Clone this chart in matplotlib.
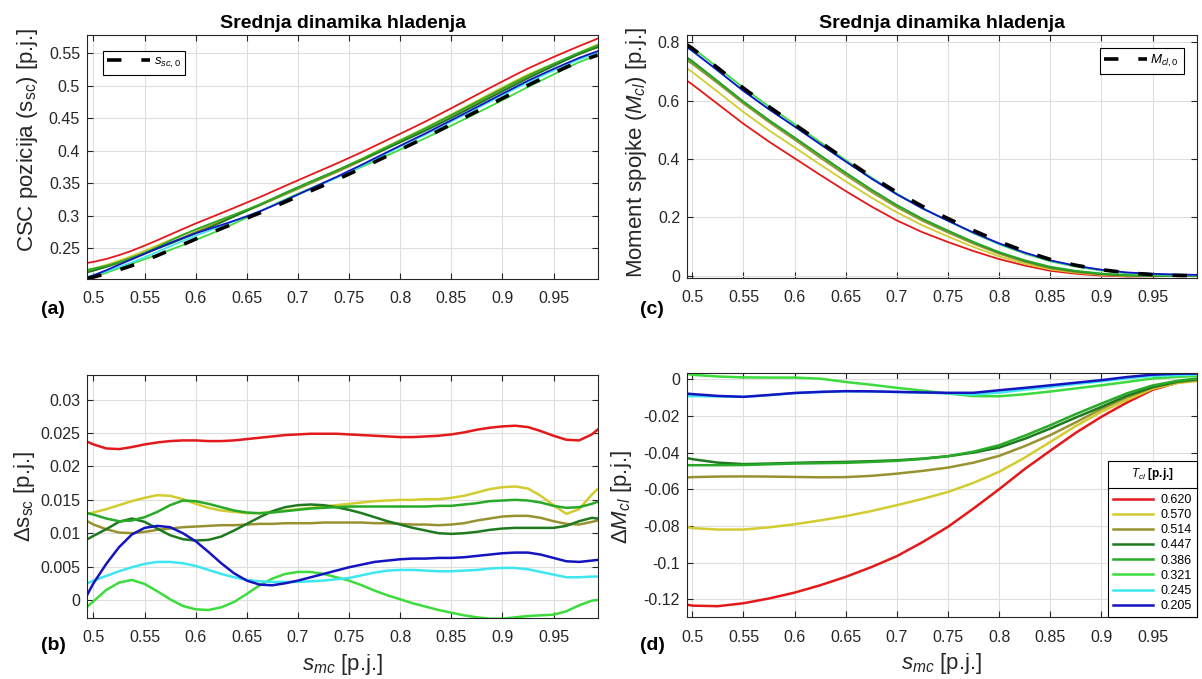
import numpy as np
import matplotlib

matplotlib.use("Agg")
import matplotlib.pyplot as plt
from matplotlib.lines import Line2D

plt.rcParams["font.family"] = ["Liberation Sans", "DejaVu Sans"]
plt.rcParams["mathtext.fontset"] = "custom"
plt.rcParams["mathtext.rm"] = "Liberation Sans"
plt.rcParams["mathtext.it"] = "Liberation Sans:italic"
plt.rcParams["mathtext.bf"] = "Liberation Sans:bold"

# ---- data ----
T_CL = ["0.620", "0.570", "0.514", "0.447", "0.386", "0.321", "0.245", "0.205"]
COLORS = ["#e3191c", "#d2cc30", "#999230", "#1f7a1f", "#28aa28", "#3ddc3d", "#3ee6f0", "#1414c0"]

X_TICKS = [0.5, 0.55, 0.6, 0.65, 0.7, 0.75, 0.8, 0.85, 0.9, 0.95]

# fine grid for s_sc panels
S_MC_FINE = [0.494, 0.5, 0.5125, 0.525, 0.5375, 0.55, 0.5625, 0.575, 0.5875, 0.6,
             0.6125, 0.625, 0.6375, 0.65, 0.6625, 0.675, 0.6875, 0.7, 0.7125, 0.725,
             0.7375, 0.75, 0.7625, 0.775, 0.7875, 0.8, 0.8125, 0.825, 0.8375, 0.85,
             0.8625, 0.875, 0.8875, 0.9, 0.9125, 0.925, 0.9375, 0.95, 0.9625, 0.975,
             0.9875, 0.993]

SSC0 = [0.2035, 0.2055, 0.2105, 0.2165, 0.2230, 0.2305, 0.2385, 0.2470, 0.2555, 0.2640,
        0.2720, 0.2800, 0.2880, 0.2960, 0.3040, 0.3125, 0.3210, 0.3295, 0.3380, 0.3465,
        0.3550, 0.3640, 0.3730, 0.3825, 0.3920, 0.4015, 0.4110, 0.4205, 0.4305, 0.4405,
        0.4505, 0.4605, 0.4705, 0.4805, 0.4905, 0.5005, 0.5100, 0.5195, 0.5285, 0.5370,
        0.5440, 0.5470]

DSSC_620 = [0.0237, 0.0233, 0.0227, 0.0226, 0.0229, 0.0233, 0.0236, 0.0238, 0.0239, 0.0239,
            0.0238, 0.0238, 0.0239, 0.0241, 0.0243, 0.0245, 0.0247, 0.0248, 0.0249, 0.0249,
            0.0249, 0.0248, 0.0247, 0.0246, 0.0245, 0.0244, 0.0244, 0.0245, 0.0246, 0.0248,
            0.0251, 0.0255, 0.0258, 0.0260, 0.0261, 0.0259, 0.0253, 0.0246, 0.0240, 0.0239,
            0.0248, 0.0255]
DSSC_570 = [0.0129, 0.0131, 0.0136, 0.0142, 0.0148, 0.0153, 0.0157, 0.0156, 0.0151, 0.0144,
            0.0138, 0.0134, 0.0132, 0.0130, 0.0130, 0.0132, 0.0134, 0.0136, 0.0138, 0.0140,
            0.0142, 0.0144, 0.0146, 0.0148, 0.0149, 0.0150, 0.0150, 0.0151, 0.0151, 0.0153,
            0.0156, 0.0161, 0.0166, 0.0169, 0.0170, 0.0167, 0.0156, 0.0142, 0.0129, 0.0136,
            0.0158, 0.0166]
DSSC_514 = [0.0118, 0.0113, 0.0106, 0.0101, 0.0100, 0.0102, 0.0105, 0.0107, 0.0109, 0.0110,
            0.0111, 0.0112, 0.0112, 0.0113, 0.0114, 0.0114, 0.0115, 0.0115, 0.0115, 0.0116,
            0.0116, 0.0116, 0.0116, 0.0115, 0.0115, 0.0114, 0.0113, 0.0113, 0.0112, 0.0113,
            0.0115, 0.0119, 0.0122, 0.0125, 0.0126, 0.0126, 0.0123, 0.0118, 0.0114, 0.0113,
            0.0117, 0.0119]
DSSC_447 = [0.0091, 0.0096, 0.0106, 0.0117, 0.0122, 0.0117, 0.0107, 0.0097, 0.0091, 0.0089,
            0.0090, 0.0095, 0.0104, 0.0114, 0.0124, 0.0133, 0.0139, 0.0142, 0.0143, 0.0142,
            0.0139, 0.0135, 0.0130, 0.0124, 0.0118, 0.0113, 0.0108, 0.0104, 0.0100, 0.0099,
            0.0100, 0.0102, 0.0105, 0.0107, 0.0108, 0.0108, 0.0108, 0.0108, 0.0111, 0.0118,
            0.0123, 0.0122]
DSSC_386 = [0.0130, 0.0128, 0.0122, 0.0118, 0.0119, 0.0124, 0.0132, 0.0142, 0.0149, 0.0148,
            0.0144, 0.0139, 0.0134, 0.0131, 0.0130, 0.0131, 0.0133, 0.0135, 0.0137, 0.0138,
            0.0139, 0.0140, 0.0140, 0.0140, 0.0140, 0.0140, 0.0140, 0.0140, 0.0141, 0.0141,
            0.0143, 0.0145, 0.0148, 0.0149, 0.0150, 0.0149, 0.0146, 0.0141, 0.0138, 0.0139,
            0.0144, 0.0147]
DSSC_321 = [-0.0010, -0.0002, 0.0015, 0.0026, 0.0030, 0.0024, 0.0013, 0.0001, -0.0009, -0.0014,
            -0.0015, -0.0011, -0.0003, 0.0009, 0.0022, 0.0032, 0.0039, 0.0042, 0.0042, 0.0039,
            0.0034, 0.0029, 0.0022, 0.0014, 0.0007, 0.0001, -0.0005, -0.0010, -0.0015, -0.0019,
            -0.0023, -0.0026, -0.0028, -0.0028, -0.0026, -0.0024, -0.0023, -0.0022, -0.0017, -0.0008,
            -0.0001, 0.0000]
DSSC_245 = [0.0025, 0.0029, 0.0036, 0.0043, 0.0049, 0.0054, 0.0057, 0.0057, 0.0055, 0.0051,
            0.0045, 0.0039, 0.0034, 0.0030, 0.0028, 0.0027, 0.0027, 0.0027, 0.0028, 0.0029,
            0.0031, 0.0033, 0.0037, 0.0041, 0.0044, 0.0045, 0.0045, 0.0044, 0.0043, 0.0043,
            0.0044, 0.0045, 0.0047, 0.0048, 0.0048, 0.0046, 0.0042, 0.0038, 0.0034, 0.0034,
            0.0035, 0.0035]
DSSC_205 = [0.0008, 0.0025, 0.0054, 0.0079, 0.0098, 0.0108, 0.0111, 0.0109, 0.0100, 0.0088,
            0.0072, 0.0055, 0.0040, 0.0029, 0.0023, 0.0022, 0.0025, 0.0029, 0.0034, 0.0039,
            0.0044, 0.0049, 0.0053, 0.0057, 0.0059, 0.0061, 0.0062, 0.0062, 0.0063, 0.0063,
            0.0064, 0.0066, 0.0068, 0.0070, 0.0071, 0.0071, 0.0068, 0.0063, 0.0058, 0.0057,
            0.0059, 0.0060]

# coarser grid for clutch torque panels
S_MC_COARSE = [0.494, 0.5, 0.525, 0.55, 0.575, 0.6, 0.625, 0.65, 0.675, 0.7, 0.725,
               0.75, 0.775, 0.8, 0.825, 0.85, 0.875, 0.9, 0.925, 0.95, 0.975, 0.993]

MCL0 = [0.793, 0.779, 0.712, 0.643, 0.579, 0.519, 0.458, 0.398, 0.340, 0.286, 0.238,
        0.196, 0.155, 0.117, 0.084, 0.056, 0.036, 0.021, 0.010, 0.004, 0.001, 0.000]

DMCL_620 = [-0.1229, -0.1235, -0.1238, -0.1222, -0.1196, -0.1164, -0.1124, -0.1078, -0.1025, -0.0965, -0.0889,
            -0.0805, -0.0705, -0.0600, -0.0490, -0.0390, -0.0292, -0.0205, -0.0127, -0.0058, -0.0018, -0.0005]
DMCL_570 = [-0.0805, -0.0812, -0.0820, -0.0820, -0.0808, -0.0791, -0.0770, -0.0747, -0.0719, -0.0687, -0.0653,
            -0.0615, -0.0565, -0.0505, -0.0428, -0.0342, -0.0255, -0.0178, -0.0113, -0.0052, -0.0020, -0.0010]
DMCL_514 = [-0.0536, -0.0534, -0.0531, -0.0530, -0.0531, -0.0533, -0.0535, -0.0534, -0.0527, -0.0515, -0.0500,
            -0.0482, -0.0455, -0.0418, -0.0365, -0.0305, -0.0235, -0.0162, -0.0098, -0.0045, -0.0015, -0.0005]
DMCL_447 = [-0.0429, -0.0436, -0.0455, -0.0463, -0.0460, -0.0456, -0.0453, -0.0451, -0.0447, -0.0442, -0.0433,
            -0.0420, -0.0400, -0.0373, -0.0325, -0.0269, -0.0209, -0.0151, -0.0090, -0.0043, -0.0012, 0.0000]
DMCL_386 = [-0.0469, -0.0469, -0.0469, -0.0468, -0.0464, -0.0460, -0.0458, -0.0456, -0.0451, -0.0445, -0.0435,
            -0.0420, -0.0395, -0.0360, -0.0308, -0.0251, -0.0190, -0.0133, -0.0077, -0.0034, -0.0008, 0.0004]
DMCL_321 = [0.0030, 0.0024, 0.0015, 0.0010, 0.0009, 0.0009, 0.0003, -0.0015, -0.0030, -0.0047, -0.0062,
            -0.0078, -0.0092, -0.0093, -0.0082, -0.0067, -0.0050, -0.0033, -0.0015, 0.0004, 0.0013, 0.0018]
DMCL_245 = [-0.0093, -0.0092, -0.0094, -0.0096, -0.0087, -0.0076, -0.0070, -0.0066, -0.0067, -0.0070, -0.0073,
            -0.0077, -0.0083, -0.0073, -0.0057, -0.0042, -0.0026, -0.0011, 0.0005, 0.0018, 0.0023, 0.0025]
DMCL_205 = [-0.0078, -0.0081, -0.0091, -0.0096, -0.0086, -0.0075, -0.0069, -0.0065, -0.0066, -0.0069, -0.0072,
            -0.0074, -0.0074, -0.0060, -0.0047, -0.0033, -0.0019, -0.0005, 0.0012, 0.0025, 0.0030, 0.0031]

DSSC = [DSSC_620, DSSC_570, DSSC_514, DSSC_447, DSSC_386, DSSC_321, DSSC_245, DSSC_205]
DMCL = [DMCL_620, DMCL_570, DMCL_514, DMCL_447, DMCL_386, DMCL_321, DMCL_245, DMCL_205]

TXT = "#262626"
DASH = (0, (4, 5.5))
W, H = 1202, 679


def px_axes(fig, left, top, right, bottom):
    return fig.add_axes([left / W, 1 - bottom / H, (right - left) / W, (bottom - top) / H])


def style_axes(ax, yticks, xlim, ylim):
    ax.set_xlim(*xlim)
    ax.set_ylim(*ylim)
    ax.set_xticks(X_TICKS)
    ax.set_xticklabels([f"{v:g}" for v in X_TICKS])
    ax.set_yticks(yticks)
    ax.set_yticklabels([f"{v:g}" for v in yticks])
    ax.grid(True, color="#dedede", linewidth=0.8)
    ax.set_axisbelow(True)
    ax.tick_params(direction="in", length=4, width=0.8, colors=TXT, labelsize=11.5,
                   top=True, right=True)
    ax.tick_params(axis="x", pad=9)
    ax.tick_params(axis="y", pad=5)
    for sp in ax.spines.values():
        sp.set_color(TXT)
        sp.set_linewidth(0.8)


def set_ylabel_at(ax, text, x, y):
    ax.set_ylabel(text, fontsize=16, color=TXT)
    ax.yaxis.set_label_coords(x, y)
    ax.yaxis.label.set_va("center")


def base_legend(ax, handle, label, loc, pad):
    leg = ax.legend([handle], [label], loc=loc, fontsize=9.5, handlelength=3.2,
                    handletextpad=0.3, borderpad=0.35, borderaxespad=pad,
                    fancybox=False, framealpha=1, edgecolor="black")
    leg.get_frame().set_linewidth(0.8)
    return leg


def main() -> None:
    fig = plt.figure(figsize=(W / 100, H / 100), dpi=100)

    ax_a = px_axes(fig, 87, 35, 598, 278.5)
    ax_b = px_axes(fig, 87, 375, 598, 618)
    ax_c = px_axes(fig, 687, 35, 1197, 277.5)
    ax_d = px_axes(fig, 687, 373, 1197, 617)

    ssc0 = np.array(SSC0)
    mcl0 = np.array(MCL0)

    for d, col in zip(DSSC, COLORS):
        ax_a.plot(S_MC_FINE, ssc0 + np.array(d), color=col, lw=1.3)
        ax_b.plot(S_MC_FINE, d, color=col, lw=1.8)
    for d, col, lab in zip(DMCL, COLORS, T_CL):
        ax_c.plot(S_MC_COARSE, mcl0 + np.array(d), color=col, lw=1.3)
        ax_d.plot(S_MC_COARSE, d, color=col, lw=1.8, label=lab)

    base_a, = ax_a.plot(S_MC_FINE, SSC0, color="black", lw=2.6, linestyle=DASH)
    base_c, = ax_c.plot(S_MC_COARSE, MCL0, color="black", lw=2.6, linestyle=DASH)

    style_axes(ax_a, [0.25, 0.3, 0.35, 0.4, 0.45, 0.5, 0.55], (0.4937, 0.9935), (0.2032, 0.578))
    style_axes(ax_b, [0, 0.005, 0.01, 0.015, 0.02, 0.025, 0.03], (0.4937, 0.9935), (-0.0027, 0.0337))
    style_axes(ax_c, [0, 0.2, 0.4, 0.6, 0.8], (0.4948, 0.9935), (-0.006, 0.825))
    style_axes(ax_d, [-0.12, -0.1, -0.08, -0.06, -0.04, -0.02, 0], (0.4948, 0.9935), (-0.1297, 0.0034))

    for ax in (ax_a, ax_c):
        ax.set_title("Srednja dinamika hladenja", fontsize=14, fontweight="bold",
                     color="black", pad=5)

    set_ylabel_at(ax_a, r"CSC pozicija ($\mathrm{s_{sc}}$) [p.j.]", -0.117, 0.57)
    set_ylabel_at(ax_c, r"Moment spojke ($M_{cl}$) [p.j.]", -0.1, 0.515)
    set_ylabel_at(ax_b, r"$\Delta\mathrm{s_{sc}}$ [p.j.]", -0.123, 0.5)
    set_ylabel_at(ax_d, r"$\Delta M_{cl}$ [p.j.]", -0.129, 0.49)
    for ax in (ax_b, ax_d):
        ax.set_xlabel(r"$s_{mc}$ [p.j.]", fontsize=16, color=TXT)
        ax.xaxis.set_label_coords(0.5, -0.19)
        ax.xaxis.label.set_va("center")

    base_legend(ax_a, base_a, r"$s_{sc,0}$", "upper left", 1.2)
    base_legend(ax_c, base_c, r"$M_{cl,0}$", "upper right", 1.0)

    leg_d = ax_d.legend(loc="lower right", fontsize=9, handlelength=3.2, labelspacing=0.25,
                        handletextpad=0.6, borderaxespad=0.0, fancybox=False, framealpha=1,
                        edgecolor="black", title=r"$T_{cl}$ [p.j.]",
                        title_fontproperties={"size": 8.5, "weight": "bold"})
    leg_d.get_frame().set_linewidth(0.8)
    leg_d._legend_box.sep = 9

    for lab, (x, y) in zip(["(a)", "(b)", "(c)", "(d)"],
                           [(53, 310), (53, 645), (652, 310), (652, 645)]):
        fig.text(x / W, 1 - y / H, lab, fontsize=14, fontweight="bold",
                 ha="center", va="center", color="black")

    # separator line under the legend title, as in the original legend box
    fig.canvas.draw()
    fb = leg_d.get_frame().get_window_extent()
    tb = leg_d.get_title().get_window_extent()
    y_sep = tb.y0 - 6
    fig.add_artist(Line2D([fb.x0 / W, fb.x1 / W], [y_sep / H, y_sep / H],
                          transform=fig.transFigure, color="black", lw=0.8))

    fig.savefig("out.png", dpi=100)
    plt.close(fig)


if __name__ == "__main__":
    main()
